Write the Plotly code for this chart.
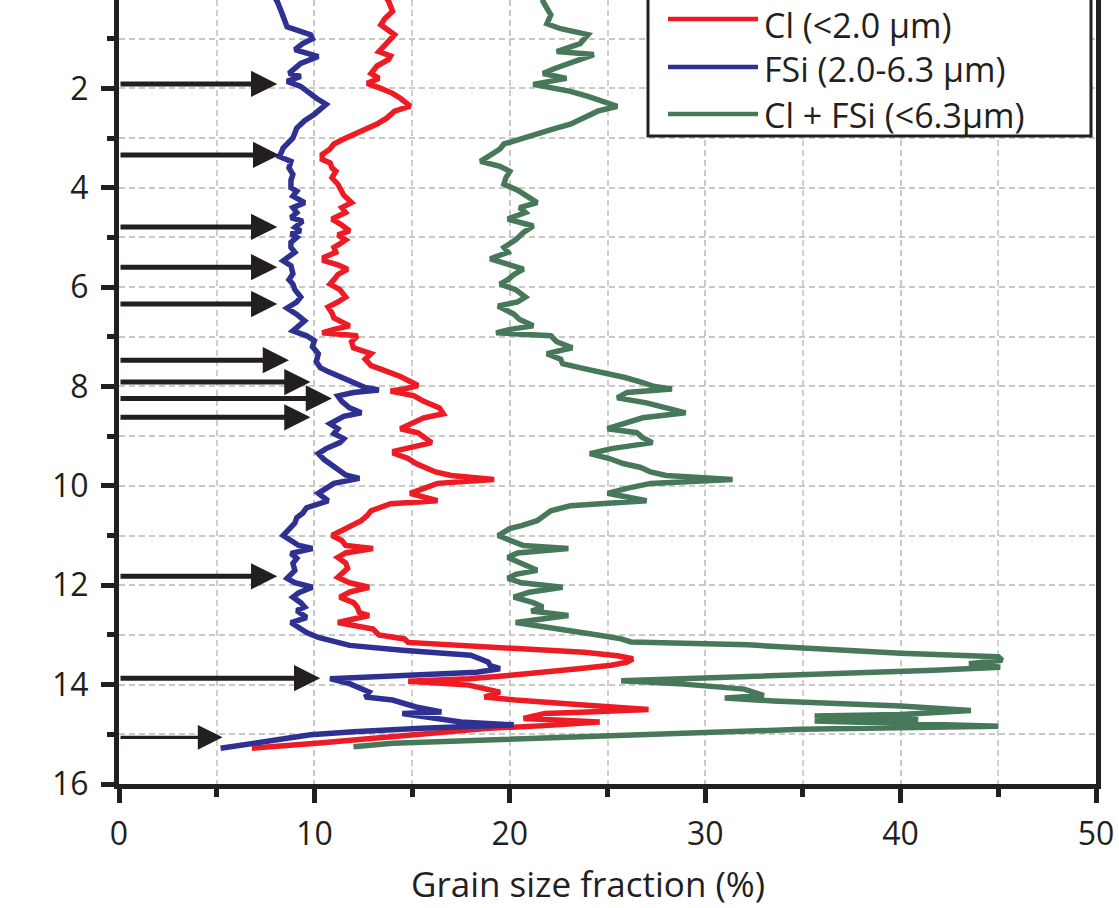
import plotly.graph_objects as go

# ---------------- data ----------------
depth_fsi = [0.2, 0.25, 0.45, 0.66, 0.76, 0.92, 1.0, 1.1, 1.22, 1.36, 1.5, 1.6, 1.7, 1.76, 1.86, 1.96,
             2.06, 2.2, 2.32, 2.42, 2.52, 2.65, 2.8, 3.0, 3.1, 3.2, 3.3, 3.37, 3.47, 3.6, 3.73, 3.85,
             4.0, 4.07, 4.17, 4.3, 4.4, 4.5, 4.6, 4.67, 4.8, 4.87, 4.93, 5.0, 5.1, 5.2, 5.3, 5.47,
             5.57, 5.67, 5.73, 5.85, 5.94, 6.05, 6.2, 6.3, 6.42, 6.55, 6.68, 6.78, 6.88, 6.98, 7.08,
             7.2, 7.34, 7.5, 7.62, 7.7, 7.78, 7.86, 7.94, 8.02, 8.07, 8.12, 8.19, 8.3, 8.43, 8.53,
             8.6, 8.75, 8.85, 8.95, 9.05, 9.13, 9.25, 9.35, 9.47, 9.55, 9.69, 9.78, 9.85, 9.95,
             10.05, 10.15, 10.3, 10.44, 10.55, 10.64, 10.75, 10.84, 11.0, 11.1, 11.2, 11.26, 11.36,
             11.46, 11.56, 11.7, 11.86, 11.95, 12.04, 12.15, 12.24, 12.35, 12.44, 12.51, 12.65,
             12.75, 12.85, 12.95, 13.05, 13.11, 13.21, 13.31, 13.41, 13.5, 13.55, 13.62, 13.68,
             13.75, 13.81, 13.88, 13.98, 14.08, 14.15, 14.25, 14.31, 14.45, 14.55, 14.58, 14.68,
             14.75, 14.81, 14.85, 14.88, 14.95, 15.01, 15.11, 15.21, 15.28]
fsi = [8.0, 8.1, 8.3, 8.5, 8.6, 9.8, 9.9, 9.4, 9.0, 10.2, 9.3, 9.0, 8.7, 9.3, 8.6, 9.3,
       9.6, 10.1, 10.6, 10.3, 10.0, 9.5, 9.1, 8.9, 8.6, 8.4, 8.3, 8.2, 8.8, 8.7, 8.9, 8.8,
       8.8, 9.1, 8.9, 9.5, 8.9, 9.1, 8.8, 9.4, 9.0, 9.3, 8.8, 9.1, 8.8, 8.8, 9.0, 8.4,
       8.8, 8.9, 8.9, 8.7, 8.9, 9.0, 9.3, 9.1, 8.6, 9.1, 9.5, 9.2, 8.9, 9.6, 10.0,
       9.9, 10.2, 10.1, 10.3, 10.7, 11.2, 11.6, 12.2, 12.6, 13.3, 12.0, 11.2, 11.4, 11.8, 12.4,
       11.5, 10.8, 11.2, 11.0, 11.5, 11.3, 10.6, 10.2, 10.5, 10.8, 11.3, 11.6, 12.3, 11.0,
       10.6, 10.2, 10.7, 9.6, 9.4, 9.1, 9.0, 8.8, 8.4, 8.8, 9.2, 9.9, 8.8,
       9.1, 8.9, 9.0, 8.6, 9.0, 9.9, 9.2, 8.9, 9.3, 9.5, 9.1, 9.6,
       8.8, 9.2, 9.6, 10.2, 10.8, 11.8, 14.5, 18.0, 18.6, 18.9, 19.0, 19.5,
       18.3, 14.0, 10.8, 11.8, 12.3, 12.8, 12.6, 14.0, 15.2, 16.5, 14.5, 16.5,
       17.5, 20.2, 17.0, 15.5, 12.0, 9.8, 8.1, 6.2, 5.2]

depth_cl = [0.2, 0.25, 0.45, 0.6, 0.72, 0.85, 0.92, 1.05, 1.15, 1.26, 1.35, 1.42, 1.55, 1.7, 1.8,
            1.9, 2.0, 2.1, 2.2, 2.3, 2.36, 2.46, 2.6, 2.72, 2.82, 2.92, 3.02, 3.12, 3.22, 3.33,
            3.43, 3.5, 3.6, 3.67, 3.8, 3.93, 4.0, 4.15, 4.3, 4.4, 4.5, 4.63, 4.75, 4.87, 4.95,
            5.05, 5.13, 5.2, 5.3, 5.4, 5.47, 5.55, 5.64, 5.75, 5.85, 5.94, 6.05, 6.2, 6.3, 6.4,
            6.52, 6.62, 6.7, 6.78, 6.85, 6.92, 6.98, 7.1, 7.22, 7.34, 7.45, 7.58, 7.65, 7.72,
            7.8, 7.88, 7.98, 8.05, 8.09, 8.19, 8.3, 8.43, 8.55, 8.63, 8.75, 8.85, 8.93, 9.03,
            9.13, 9.22, 9.3, 9.35, 9.45, 9.55, 9.63, 9.72, 9.79, 9.87, 9.95, 10.05, 10.15, 10.3,
            10.36, 10.5, 10.6, 10.7, 10.8, 10.86, 11.0, 11.1, 11.2, 11.26, 11.35, 11.44, 11.55,
            11.66, 11.75, 11.84, 11.95, 12.04, 12.14, 12.24, 12.35, 12.44, 12.55, 12.61, 12.75,
            12.88, 13.0, 13.08, 13.15, 13.25, 13.35, 13.42, 13.48, 13.55, 13.61, 13.68, 13.75,
            13.82, 13.88, 13.93, 14.01, 14.1, 14.15, 14.25, 14.31, 14.41, 14.5, 14.55, 14.58,
            14.68, 14.75, 14.82, 14.88, 14.98, 15.05, 15.18, 15.28]
cl = [13.7, 13.8, 14.0, 13.6, 13.4, 13.9, 14.1, 13.8, 13.6, 13.3, 13.9, 13.8, 13.2, 12.9, 13.3,
      12.7, 13.4, 14.0, 14.4, 14.7, 14.9, 14.1, 13.7, 13.2, 12.6, 12.0, 11.5, 11.0, 10.8, 10.4,
      10.4, 10.8, 10.9, 11.1, 10.9, 11.2, 11.3, 11.5, 11.9, 11.4, 11.6, 10.9, 11.4, 11.8, 11.2,
      11.6, 11.3, 11.0, 11.1, 10.5, 10.5, 11.2, 11.7, 11.2, 11.0, 10.8, 11.3, 11.6, 11.2, 10.7,
      10.9, 11.0, 11.4, 11.8, 11.0, 10.4, 12.2, 11.9, 12.0, 12.9, 12.6, 12.9, 13.4, 13.9,
      14.4, 14.8, 15.3, 14.6, 13.9, 15.1, 15.6, 16.4, 16.6, 15.6, 15.0, 14.4, 15.3, 15.6,
      16.0, 15.0, 14.1, 14.1, 14.8, 15.2, 15.6, 16.2, 17.0, 19.2, 16.3, 15.5, 14.9, 16.3,
      13.9, 12.9, 12.7, 12.4, 11.9, 11.5, 10.9, 11.4, 11.6, 13.0, 11.6, 11.2, 11.6,
      11.7, 11.4, 11.2, 11.8, 12.8, 11.8, 11.3, 12.0, 12.2, 12.3, 12.8, 11.2,
      13.0, 13.3, 14.6, 14.8, 19.9, 23.8, 25.5, 26.3, 26.0, 25.2, 23.5, 21.8,
      19.8, 17.9, 14.8, 17.9, 19.0, 19.5, 18.7, 20.3, 23.8, 27.1, 24.0, 21.8,
      20.7, 24.6, 22.0, 18.9, 16.0, 13.6, 10.1, 6.8]

depth_sum = [0.2, 0.25, 0.52, 0.7, 0.8, 0.92, 1.1, 1.26, 1.32, 1.48, 1.6, 1.7, 1.8, 1.92, 2.06,
             2.16, 2.26, 2.36, 2.46, 2.6, 2.72, 2.82, 2.92, 3.02, 3.12, 3.22, 3.33, 3.4, 3.47,
             3.57, 3.67, 3.8, 3.93, 4.05, 4.15, 4.3, 4.4, 4.5, 4.63, 4.77, 4.9, 5.05, 5.2, 5.3,
             5.43, 5.55, 5.64, 5.75, 5.85, 5.94, 6.05, 6.2, 6.3, 6.38, 6.54, 6.65, 6.78, 6.85,
             6.92, 6.98, 7.1, 7.22, 7.34, 7.45, 7.54, 7.64, 7.74, 7.82, 7.92, 8.0, 8.05, 8.12,
             8.23, 8.33, 8.43, 8.53, 8.63, 8.75, 8.85, 8.93, 9.03, 9.13, 9.25, 9.35, 9.45, 9.55,
             9.63, 9.72, 9.79, 9.87, 9.95, 10.05, 10.15, 10.3, 10.4, 10.5, 10.6, 10.7, 10.8,
             10.86, 11.0, 11.1, 11.2, 11.26, 11.35, 11.44, 11.55, 11.7, 11.78, 11.86, 11.95,
             12.04, 12.14, 12.24, 12.35, 12.44, 12.52, 12.61, 12.75, 12.91, 13.0, 13.08, 13.14,
             13.2, 13.31, 13.37, 13.44, 13.51, 13.58, 13.65, 13.71, 13.77, 13.85, 13.92, 13.99,
             14.09, 14.22, 14.27, 14.33, 14.43, 14.52, 14.6, 14.63, 14.7, 14.73, 14.84, 14.9,
             14.97, 15.04, 15.11, 15.18, 15.25]
cl_fsi = [21.7, 21.7, 22.1, 21.9, 22.6, 24.0, 23.6, 22.4, 24.3, 23.1, 22.3, 21.7, 22.9, 21.2, 23.1,
          24.0, 24.8, 25.5, 24.5, 23.8, 23.1, 22.2, 21.4, 20.5, 19.7, 19.5, 19.0, 18.7, 18.5,
          19.5, 20.0, 19.8, 19.7, 20.4, 20.8, 21.4, 20.5, 20.8, 19.9, 21.2, 20.7, 20.3, 19.7, 19.9,
          19.0, 19.9, 20.7, 20.2, 19.9, 19.5, 20.3, 20.8, 20.4, 19.4, 20.2, 20.5, 21.2, 20.0,
          19.3, 22.1, 22.4, 23.2, 21.9, 22.6, 22.7, 23.8, 25.0, 25.9, 26.8, 27.4, 28.3, 26.0,
          25.5, 27.0, 28.0, 29.0, 26.8, 25.8, 25.0, 26.5, 26.8, 27.3, 25.2, 24.1, 25.1, 25.8,
          26.7, 27.2, 28.0, 31.4, 27.2, 26.0, 25.0, 27.0, 23.1, 22.1, 21.8, 21.4, 20.6,
          20.0, 19.4, 20.0, 20.7, 23.0, 20.4, 19.9, 20.5, 21.4, 20.3, 19.9, 20.6,
          22.7, 21.0, 20.2, 21.2, 21.7, 21.1, 23.0, 20.3, 23.2, 24.5, 25.7, 26.2,
          32.2, 36.6, 40.0, 45.0, 45.2, 43.5, 45.1, 41.7, 36.6, 29.8, 25.7, 28.9,
          32.0, 33.0, 31.0, 33.5, 40.0, 43.6, 40.0, 35.6, 40.9, 35.6, 45.0, 34.9,
          29.8, 24.0, 17.9, 14.0, 12.0]

arrow_depth = [1.91, 3.34, 4.79, 5.60, 6.34, 7.47, 7.91, 8.24, 8.62, 11.82, 13.87, 15.06]
arrow_tip = [8.1, 8.2, 8.1, 8.1, 8.1, 8.7, 9.8, 10.9, 9.8, 8.1, 10.3, 5.3]

series_names = ["Cl (<2.0 μm)", "FSi (2.0-6.3 μm)", "Cl + FSi (<6.3μm)"]
series_colors = ["#ed1c24", "#2e3192", "#48785a"]

x_title = "Grain size fraction (%)"

# ---------------- figure ----------------
INK = "#231f20"
FONT = "Open Sans"
W, H = 1119, 908
ML, MR, MT, MB = 119, 23, 0, 124
PW, PH = W - ML - MR, H - MT - MB
LW = 5.5

fig = go.Figure()
fig.add_trace(go.Scatter(x=cl_fsi, y=depth_sum, mode="lines", name=series_names[2],
                         line=dict(color=series_colors[2], width=LW), showlegend=False))
fig.add_trace(go.Scatter(x=cl, y=depth_cl, mode="lines", name=series_names[0],
                         line=dict(color=series_colors[0], width=LW), showlegend=False))
fig.add_trace(go.Scatter(x=fsi, y=depth_fsi, mode="lines", name=series_names[1],
                         line=dict(color=series_colors[1], width=LW), showlegend=False))

annotations = []
for d, t in zip(arrow_depth, arrow_tip):
    last = d > 15
    annotations.append(dict(
        x=t, y=d, ax=0, ay=d, xref="x", yref="y", axref="x", ayref="y",
        text="", showarrow=True, arrowhead=2,
        arrowwidth=3.3 if last else 5, arrowsize=1.5 if last else 1.05,
        arrowcolor=INK))

# manual legend (positions in pixels of the page)
def px_x(p):
    return (p - ML) / PW

def px_y(p):
    return (H - MB - p) / PH

shapes = [dict(type="rect", xref="paper", yref="paper",
               x0=px_x(648), x1=px_x(1091), y0=px_y(136), y1=px_y(-20),
               fillcolor="white", line=dict(color=INK, width=3), layer="above")]
legend_line_y = [19, 67, 114]
legend_text_y = [25, 69, 115]
for name, col, ly, ty in zip(series_names, series_colors, legend_line_y, legend_text_y):
    shapes.append(dict(type="line", xref="paper", yref="paper",
                       x0=px_x(668), x1=px_x(758), y0=px_y(ly), y1=px_y(ly),
                       line=dict(color=col, width=4.5), layer="above"))
    annotations.append(dict(x=px_x(762), y=px_y(ty), xref="paper", yref="paper",
                            text=name, showarrow=False, xanchor="left", yanchor="middle",
                            font=dict(family=FONT, size=34, color=INK)))

annotations.append(dict(x=px_x(588), y=px_y(883), xref="paper", yref="paper",
                        text=x_title, showarrow=False, xanchor="center", yanchor="middle",
                        font=dict(family=FONT, size=35, color=INK)))

grid_dash = "6px,4px"
fig.update_layout(
    width=W, height=H,
    margin=dict(l=ML, r=MR, t=MT, b=MB, pad=0),
    paper_bgcolor="white", plot_bgcolor="white",
    font=dict(family=FONT, color=INK, size=32),
    showlegend=False,
    annotations=annotations,
    shapes=shapes,
    xaxis=dict(
        range=[0, 50], dtick=10, tick0=0, showline=True, linecolor=INK, linewidth=5,
        mirror=False, ticks="outside", ticklen=14, tickwidth=5, tickcolor=INK,
        showgrid=True, gridcolor="#c8c8c8", gridwidth=2, griddash=grid_dash,
        zeroline=False, ticklabelstandoff=4,
        tickfont=dict(family=FONT, size=32, color=INK),
        minor=dict(dtick=5, ticks="outside", ticklen=8, tickwidth=5, tickcolor=INK,
                   showgrid=True, gridcolor="#cfcfcf", gridwidth=1.5, griddash=grid_dash),
    ),
    yaxis=dict(
        range=[16, 0.222], dtick=2, tick0=0, showline=True, linecolor=INK, linewidth=5,
        mirror=True, ticks="outside", ticklen=13, tickwidth=5, tickcolor=INK,
        showgrid=True, gridcolor="#c8c8c8", gridwidth=2, griddash=grid_dash,
        zeroline=False, ticklabelstandoff=6,
        tickfont=dict(family=FONT, size=32, color=INK),
        minor=dict(dtick=1, ticks="outside", ticklen=7, tickwidth=5, tickcolor=INK,
                   showgrid=True, gridcolor="#c8c8c8", gridwidth=2, griddash=grid_dash),
    ),
)

fig.write_html("out.html")
